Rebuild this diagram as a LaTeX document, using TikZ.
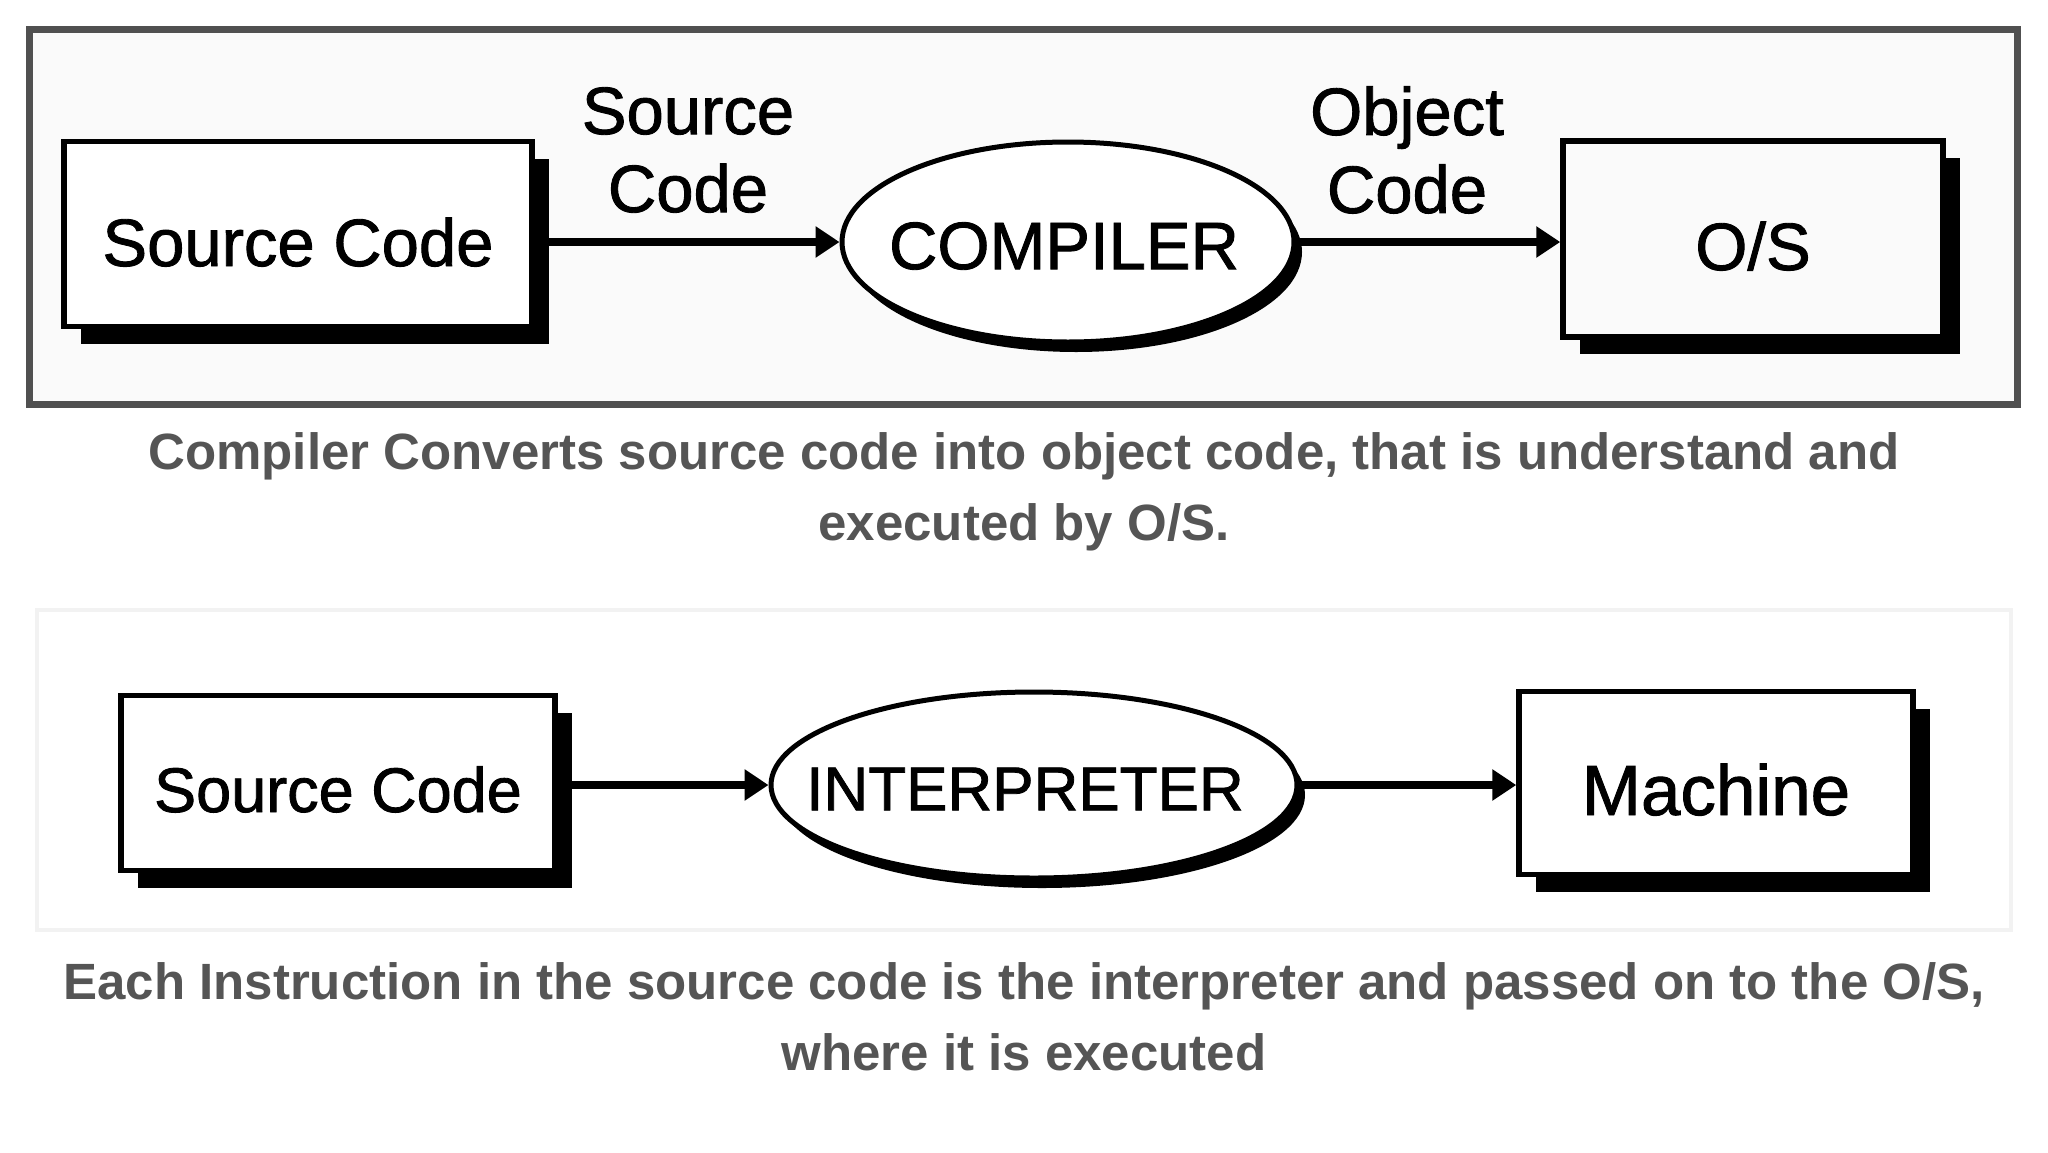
\documentclass[tikz,border=0pt]{standalone}
\usepackage{fontspec}
\setmainfont{Liberation Sans}
\newfontfamily\diafont{Liberation Sans}[FakeBold=1.3]
\usetikzlibrary{shapes.geometric,arrows.meta,shadows}
\definecolor{capgray}{HTML}{555555}
\definecolor{framegray}{HTML}{505050}
\definecolor{paper}{HTML}{FAFAFA}
\begin{document}
\begin{tikzpicture}[x=1pt,y=-1pt,
  boxnode/.style={draw=black, line width=5.5pt, fill=white, rectangle, inner sep=0pt,
    text height=62pt, text depth=0pt,
    font=\diafont\fontsize{67}{78}\selectfont,
    drop shadow={shadow xshift=17pt, shadow yshift=-17pt, fill=black, opacity=1}},
  ellnode/.style={draw=black, line width=5pt, fill=white, ellipse, inner sep=0pt,
    drop shadow={shadow xshift=8pt, shadow yshift=-10pt, fill=black, opacity=1}},
  ltext/.style={inner sep=0pt, font=\diafont\fontsize{67}{78}\selectfont},
  lbl/.style={align=center, inner sep=0pt, font=\diafont\fontsize{67}{78}\selectfont},
  captxt/.style={align=center, inner sep=0pt, text=capgray, font=\fontsize{51}{71}\selectfont\bfseries},
  conn/.style={line width=8pt, -{Triangle[length=24pt,width=30pt]}}]
\useasboundingbox (0,0) rectangle (2048,1152);
\fill[white] (0,0) rectangle (2048,1152);
% top panel frame
\draw[framegray, line width=7pt, fill=paper] (29,29) rectangle (2017,404);
% bottom panel
\draw[black!5, line width=4pt, fill=white] (37,610) rectangle (2011,930);

% compiler diagram
\node[boxnode, minimum width=468pt, minimum height=185pt, text height=64pt] (src1) at (298,234) {Source Code};
\node[ellnode, minimum width=452pt, minimum height=200pt] (comp) at (1068,242) {};
\node[ltext] (compt) at (1064,246) {COMPILER};
\node[boxnode, minimum width=380pt, minimum height=196pt, fill=paper] (os) at (1753,239) {O/S};
\node[lbl] (lsrc) at (688,150) {Source\\Code};
\node[lbl] (lobj) at (1407,150) {Object\\Code};
\draw[conn] (src1.east |- comp.west) -- (comp.west);
\draw[conn] (comp.east) -- (os.west |- comp.east);

% caption 1
\node[captxt] (cap1) at (1024,492) {Compiler Converts source code into object code, that is understand and\\executed by O/S.};

% interpreter diagram
\node[boxnode, minimum width=434pt, minimum height=175pt, font=\diafont\fontsize{63}{70}\selectfont, text height=58pt] (src2) at (338,783) {Source Code};
\node[ellnode, minimum width=526pt, minimum height=186pt] (interp) at (1034,785) {};
\node[ltext, font=\diafont\fontsize{62}{70}\selectfont] (interpt) at (1025,789) {INTERPRETER};
\node[boxnode, minimum width=394pt, minimum height=183pt, font=\diafont\fontsize{71}{78}\selectfont, text height=64pt] (mach) at (1716,783) {Machine};
\draw[conn] (src2.east |- interp.west) -- (interp.west);
\draw[conn] (interp.east) -- (mach.west |- interp.east);

% caption 2
\node[captxt] (cap2) at (1024,1017) {Each Instruction in the source code is the interpreter and passed on to the O/S,\\where it is executed};
\end{tikzpicture}
\end{document}
